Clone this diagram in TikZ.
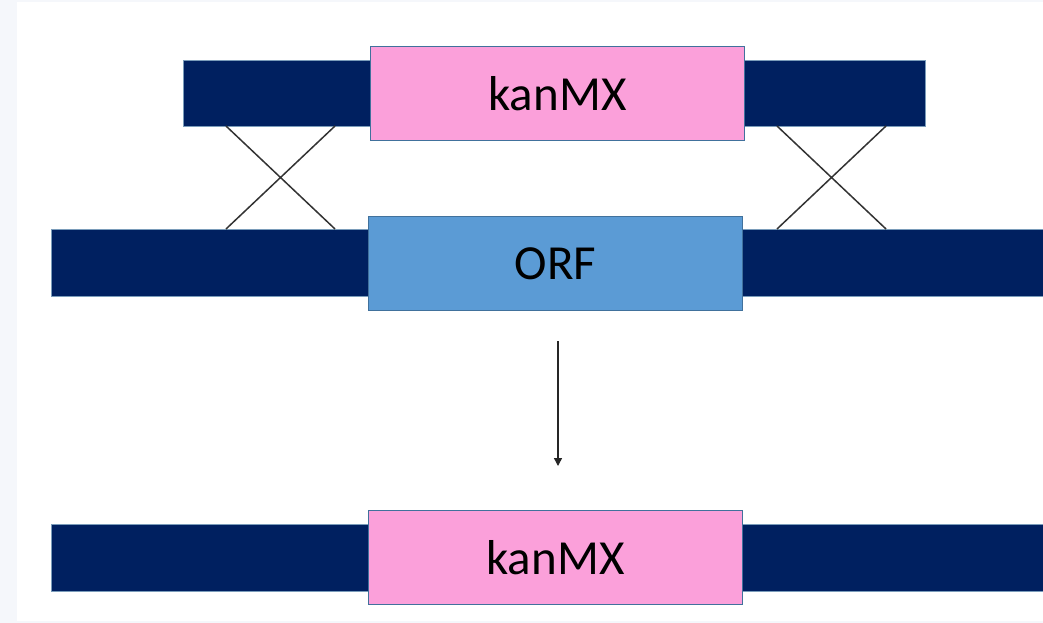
\documentclass[tikz,border=0pt]{standalone}
\usepackage{fontspec}
\setmainfont{Carlito}
\usetikzlibrary{arrows.meta}
\definecolor{navy}{HTML}{002060}
\definecolor{pinkk}{HTML}{FBA0DA}
\definecolor{orfblue}{HTML}{5B9BD5}
\definecolor{edge}{HTML}{41719C}
\definecolor{bgstrip}{HTML}{F5F7FB}
\tikzset{
  x=1pt, y=-1pt,
  bar/.style={fill=navy, draw=edge!70!white, line width=0.6pt},
  gene/.style={draw=edge, line width=1pt, font=\fontsize{49}{58}\selectfont, text=black},
  cross/.style={draw=black!80, line width=1.5pt},
}
\begin{document}
\begin{tikzpicture}
\useasboundingbox (0,0) rectangle (1043,623);
\fill[bgstrip] (0,0) rectangle (1043,623);
\fill[white] (17,2) rectangle (1043,621);
% top row
\draw[bar] (183,60) rectangle (370,126);
\draw[bar] (743,60) rectangle (925,126);
\node[gene, fill=pinkk, minimum width=374pt, minimum height=94pt, inner sep=0pt, anchor=north west] (kan1) at (370,46) {kanMX};
% middle row
\draw[bar] (51,229) rectangle (368,296);
\draw[bar] (742,229) rectangle (1045,296);
\node[gene, fill=orfblue, minimum width=374pt, minimum height=94pt, inner sep=0pt, anchor=north west] (orf) at (368,216) {ORF};
% crosses
\coordinate (l1) at (226,126); \coordinate (l2) at (335,126);
\coordinate (l3) at (226,229); \coordinate (l4) at (335,229);
\coordinate (r1) at (777,126); \coordinate (r2) at (886,126);
\coordinate (r3) at (777,229); \coordinate (r4) at (886,229);
\draw[cross] (l1) -- (l4);
\draw[cross] (l2) -- (l3);
\draw[cross] (r1) -- (r4);
\draw[cross] (r2) -- (r3);
% arrow
\coordinate (a1) at (558,341);
\coordinate (a2) at (558,466);
\draw[black!85, line width=1.4pt, -{Triangle[length=8pt,width=8pt]}] (a1) -- (a2);
% bottom row
\draw[bar] (51,524) rectangle (368,591);
\draw[bar] (742,524) rectangle (1045,591);
\node[gene, fill=pinkk, minimum width=374pt, minimum height=94pt, inner sep=0pt, anchor=north west] (kan2) at (368,510) {kanMX};
\end{tikzpicture}
\end{document}
